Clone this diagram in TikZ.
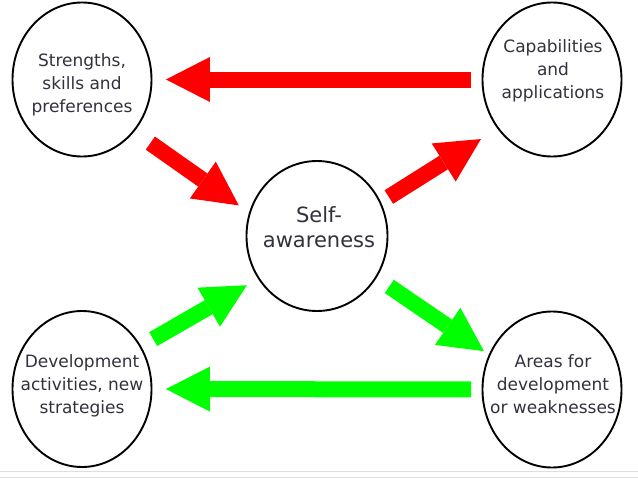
\documentclass[tikz,border=0pt]{standalone}
\usepackage{fontspec}
\setmainfont{DejaVu Sans}
\usetikzlibrary{arrows.meta,shapes.geometric}
\definecolor{txt}{RGB}{50,50,62}
\definecolor{aRed}{RGB}{255,0,0}
\definecolor{aGreen}{RGB}{0,255,0}
\definecolor{edge}{RGB}{222,222,222}
\begin{document}
\begin{tikzpicture}[x=1pt,y=-1pt,
  bubble/.style={draw=black, line width=1.9pt, ellipse, minimum width=139pt, minimum height=154pt, inner sep=0pt},
  lbl/.style={text=txt, align=center, font=\fontsize{17}{23}\selectfont},
  bigarrow/.style={line width=16pt, -{Triangle[length=44pt 0 0, width=45pt 0 0, line width=0pt 0 0]}}]
\fill[white] (0,0) rectangle (638,479);
\useasboundingbox (0,0) rectangle (638,479);
\draw[edge, line width=1pt] (0,471) -- (638,471);
\draw[edge, line width=1pt] (0,477) -- (638,477);

\node[bubble] (tl) at (82,79.5) {};
\node[bubble] (tr) at (552,79.5) {};
\node[bubble, minimum width=141pt, minimum height=150pt] (c) at (317,236) {};
\node[bubble, minimum height=156pt] (bl) at (82,389) {};
\node[bubble, minimum height=156pt] (br) at (552,389.5) {};

\node[lbl] (tlt) at (82,85) {Strengths,\\skills and\\preferences};
\node[lbl] (trt) at (553,71) {Capabilities\\and\\applications};
\node[lbl, font=\fontsize{21}{25}\selectfont] (ct) at (319,227.5) {Self-\\awareness};
\node[lbl] (blt) at (82,386) {Development\\activities, new\\strategies};
\node[lbl] (brt) at (553,384) {Areas for\\development\\or weaknesses};

\draw[bigarrow, aRed, shorten <=10.5pt, shorten >=13.5pt] (tr.west) -- (tl.east);
\draw[bigarrow, aRed, shorten <=19.7pt, shorten >=12.5pt] (tl.-45) -- (c.161);
\draw[bigarrow, aRed, shorten <=9.4pt, shorten >=19.4pt] (c.28.4) -- (tr.222.6);
\draw[bigarrow, aGreen, shorten <=13.9pt, shorten >=12.8pt] (bl.36.6) -- (c.216.5);
\draw[bigarrow, aGreen, shorten <=15.3pt, shorten >=5.9pt] (c.-35.3) -- (br.151.5);
\draw[bigarrow, aGreen, shorten <=10.5pt, shorten >=13.5pt] (br.west) -- (bl.east);
\end{tikzpicture}
\end{document}
